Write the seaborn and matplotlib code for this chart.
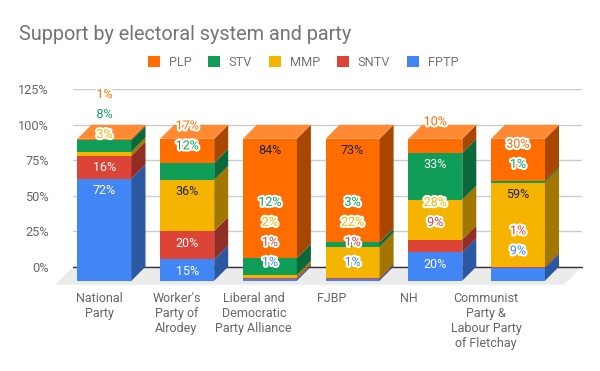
import numpy as np
import pandas as pd
import matplotlib
matplotlib.use("Agg")
import matplotlib.pyplot as plt
import seaborn as sns
from matplotlib.patches import Polygon, Patch
from matplotlib.transforms import ScaledTranslation
import matplotlib.patheffects as pe

# ---------------- data ----------------
categories = ["National\nParty", "Worker's\nParty of\nAlrodey",
              "Liberal and\nDemocratic\nParty Alliance", "FJBP", "NH",
              "Communist\nParty &\nLabour Party\nof Fletchay"]
FPTP = [72, 15, 1, 1, 20, 9]
SNTV = [16, 20, 1, 1, 9, 1]
MMP = [3, 36, 2, 22, 28, 59]
STV = [8, 12, 12, 3, 33, 1]
PLP = [1, 17, 84, 73, 10, 30]
series_names = ["FPTP", "SNTV", "MMP", "STV", "PLP"]          # stacking order (bottom -> top)
series_vals = [FPTP, SNTV, MMP, STV, PLP]
legend_order = ["PLP", "STV", "MMP", "SNTV", "FPTP"]
yticks = [0, 25, 50, 75, 100, 125]

colors = {"PLP": "#ff6d00", "STV": "#0f9d58", "MMP": "#f4b400",
          "SNTV": "#db4437", "FPTP": "#4285f4"}
inside_text = {"PLP": "#212121", "STV": "white", "MMP": "#212121",
               "SNTV": "white", "FPTP": "white"}

def darker(c, f=0.66):
    r, g, b = matplotlib.colors.to_rgb(c)
    return (r * f, g * f, b * f)

def lighter(c, f=0.2):
    r, g, b = matplotlib.colors.to_rgb(c)
    return (r + (1 - r) * f, g + (1 - g) * f, b + (1 - b) * f)

# ---------------- style ----------------
sns.set_theme(style="white")
plt.rcParams["font.family"] = ["Roboto", "DejaVu Sans"]

W, H = 600, 371
fig = plt.figure(figsize=(W / 100, H / 100), dpi=100)
fig.patch.set_facecolor("white")

# plot-area (back plane) in pixels
L, R, B, T = 73, 582, 266.7, 89.3
ax = fig.add_axes([L / W, 1 - B / H, (R - L) / W, (B - T) / H])

x0px, step = 118.5, 82.7           # back-plane centre of first bar, bar spacing
D = 14                              # 3D depth in px
bar_w = 0.653

off = ScaledTranslation(-D / 100, -D / 100, fig.dpi_scale_trans)

# long table of cumulative totals
cum = np.zeros(len(categories))
rows = []
cums = {}
for name, vals in zip(series_names, series_vals):
    bottom = cum.copy()
    cum = cum + np.array(vals)
    cums[name] = (bottom, cum.copy())
    for c, b_, t_ in zip(categories, bottom, cum):
        rows.append({"party": c, "series": name, "bottom": b_, "top": t_})
df = pd.DataFrame(rows)

# front faces: draw cumulative bars from the top series down
bar_patches = {}
for name in reversed(series_names):
    sub = df[df["series"] == name]
    n0 = len(ax.patches)
    sns.barplot(data=sub, x="party", y="top", order=categories, color=colors[name],
                saturation=1, width=bar_w, errorbar=None, linewidth=0, ax=ax, zorder=3)
    bar_patches[name] = ax.patches[n0:]

ax.set_xlim((L - x0px) / step, (R - x0px) / step)
ax.set_ylim(0, 125)
ax.set_xlabel("")
ax.set_ylabel("")
ax.set_xticks([])
for s in ax.spines.values():
    s.set_visible(False)
ax.set_yticks(yticks)
ax.set_yticklabels([f"{v}%" for v in yticks])
ax.tick_params(axis="y", length=0, pad=17.5, labelsize=9.2, labelcolor="#666666")
ax.grid(axis="y", color="#cccccc", lw=1)
ax.set_axisbelow(True)

for name in series_names:
    for p in bar_patches[name]:
        p.set_transform(ax.transData + off)
        p.set_clip_on(False)

inv = ax.transData.inverted()
def shifted(x, y, dx, dy):
    d = ax.transData.transform((x, y))
    return inv.transform((d[0] + dx, d[1] + dy))

# floor
xl, xr = ax.get_xlim()
fl = [(xl, 0), (xr, 0), tuple(shifted(xr, 0, -18, -18)), tuple(shifted(xl, 0, -18, -18))]
ax.add_patch(Polygon(fl, closed=True, facecolor="#ebebeb", edgecolor="none",
                     zorder=1, clip_on=False))
ax.plot([xl, xr], [0, 0], color="#333333", lw=1, zorder=1.5, clip_on=False)

# side and top faces
for name in series_names:
    bottoms, tops = cums[name]
    for i, p in enumerate(bar_patches[name]):
        x1 = p.get_x() + p.get_width()
        xa = p.get_x()
        b_, t_ = bottoms[i], tops[i]
        if t_ - b_ <= 0:
            continue
        side = [tuple(shifted(x1, b_, -D, -D)), tuple(shifted(x1, t_, -D, -D)), (x1, t_), (x1, b_)]
        ax.add_patch(Polygon(side, closed=True, facecolor=darker(colors[name]),
                             edgecolor="none", zorder=3, clip_on=False))
        if name == series_names[-1]:
            top = [tuple(shifted(xa, t_, -D, -D)), tuple(shifted(x1, t_, -D, -D)), (x1, t_), (xa, t_)]
            ax.add_patch(Polygon(top, closed=True, facecolor=lighter(colors[name]),
                                 edgecolor="none", zorder=3, clip_on=False))

# data labels (inside end if room, otherwise just above, pushed apart)
pxy = (B - T) / 125.0
thresh = 19 / pxy
inside_off = 12 / pxy
above_off = 17 / pxy
gap = 20 / pxy
for i in range(len(categories)):
    prev = -1e9
    for name, vals in zip(series_names, series_vals):
        b_, t_ = cums[name][0][i], cums[name][1][i]
        v = vals[i]
        anchored = v >= thresh
        desired = t_ - inside_off if anchored else t_ + above_off
        y = max(desired, prev + gap)
        prev = y
        if anchored and y == desired:
            ax.text(i, y, f"{v}%", transform=ax.transData + off, ha="center", va="center",
                    fontsize=9, color=inside_text[name], zorder=6, clip_on=False)
        else:
            ax.text(i, y, f"{v}%", transform=ax.transData + off, ha="center", va="center",
                    fontsize=9, color=colors[name], zorder=6, clip_on=False,
                    path_effects=[pe.withStroke(linewidth=3, foreground="white")])

# category labels
lab = fig.add_axes([L / W, 1 - B / H, (R - L) / W, (B - T) / H], frameon=False)
lab.set_xlim((L - 99) / 77.4, (R - 99) / 77.4)
lab.set_ylim(0, 1)
lab.set_xticks(range(len(categories)))
lab.set_xticklabels(categories)
lab.set_yticks([])
lab.tick_params(axis="x", length=0, pad=18.5, labelsize=9.0, labelcolor="#666666")
lab.patch.set_visible(False)

# title
fig.text(19 / W, 1 - 40 / H, "Support by electoral system and party", fontsize=14.3,
         color="#757575", ha="left", va="baseline")

# legend
handles = [Patch(facecolor=colors[n], edgecolor="none") for n in legend_order]
fig.legend(handles, legend_order, loc="center", bbox_to_anchor=(303 / W, 1 - 62.8 / H),
           ncol=5, frameon=False, fontsize=9.2, handlelength=0.94, handleheight=0.94,
           handletextpad=0.7, columnspacing=1.3, labelcolor="#757575")

fig.savefig("out.png", dpi=100)
